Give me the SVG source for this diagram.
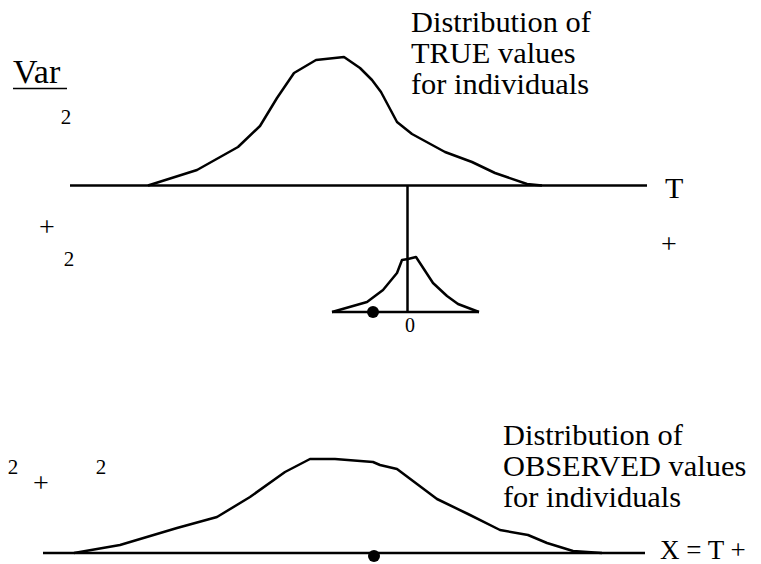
<svg xmlns="http://www.w3.org/2000/svg" width="761" height="564" viewBox="0 0 761 564">
<style>
.ln{stroke:#000;stroke-width:2.5;fill:none;stroke-linejoin:round}
</style>
<rect width="761" height="564" fill="#fff"/>
<g id="top-labels">
<text x="13" y="83" style="font-family:'Liberation Serif',serif;font-size:34px">Var</text>
<line x1="13" y1="88.5" x2="67" y2="88.5" stroke="#000" stroke-width="1.5"/>
<text x="66" y="124" text-anchor="middle" style="font-family:'Liberation Serif',serif;font-size:21px">2</text>
<text x="47" y="236" text-anchor="middle" style="font-family:'Liberation Serif',serif;font-size:28px">+</text>
<text x="69" y="266" text-anchor="middle" style="font-family:'Liberation Serif',serif;font-size:21px">2</text>
<text x="411" y="32" style="font-family:'Liberation Serif',serif;font-size:30.4px">Distribution of</text>
<text x="411" y="63" style="font-family:'Liberation Serif',serif;font-size:30.4px">TRUE values</text>
<text x="411" y="94" style="font-family:'Liberation Serif',serif;font-size:30.4px">for individuals</text>
<text x="665" y="198" style="font-family:'Liberation Serif',serif;font-size:30px">T</text>
<text x="669" y="253" text-anchor="middle" style="font-family:'Liberation Serif',serif;font-size:28px">+</text>
</g>
<g id="true-dist">
<line class="ln" x1="70" y1="185.5" x2="647" y2="185.5"/>
<polyline class="ln" points="148,185.5 197,170 238,147 260,126 277,98 294,73 316,60 344,57 360,68 372,80 381,92 397,122 412,134 445,152 472,162 495,173 527,184 542,185.5"/>
</g>
<g id="error-dist">
<line class="ln" x1="407.5" y1="185.5" x2="407.5" y2="312"/>
<line class="ln" x1="332" y1="312" x2="479" y2="312"/>
<polyline class="ln" points="332,312 367,302 383,290 397,273 402,260 408,259 416,257 433,283 447,296 458,304 479,312"/>
<circle cx="373" cy="312" r="6" fill="#000"/>
<text x="410" y="332" text-anchor="middle" style="font-family:'Liberation Serif',serif;font-size:20px">0</text>
</g>
<g id="observed-dist">
<line class="ln" x1="43" y1="553" x2="645" y2="553"/>
<polyline class="ln" points="74,553 120,545 177,528 217,517 250,497 285,472 310,459 335,459 373,462 380,465 397,469 417,484 437,499 468,514 500,530 528,535 547,543 573,551 602,553"/>
<circle cx="374" cy="556" r="6" fill="#000"/>
</g>
<g id="bottom-labels">
<text x="13" y="474" text-anchor="middle" style="font-family:'Liberation Serif',serif;font-size:21px">2</text>
<text x="41" y="492" text-anchor="middle" style="font-family:'Liberation Serif',serif;font-size:28px">+</text>
<text x="101" y="474" text-anchor="middle" style="font-family:'Liberation Serif',serif;font-size:21px">2</text>
<text x="503" y="445" style="font-family:'Liberation Serif',serif;font-size:30.4px">Distribution of</text>
<text x="503" y="476" style="font-family:'Liberation Serif',serif;font-size:30.4px">OBSERVED values</text>
<text x="503" y="507" style="font-family:'Liberation Serif',serif;font-size:30.4px">for individuals</text>
<text x="660" y="559" style="font-family:'Liberation Serif',serif;font-size:27px">X = T +</text>
</g>
</svg>
